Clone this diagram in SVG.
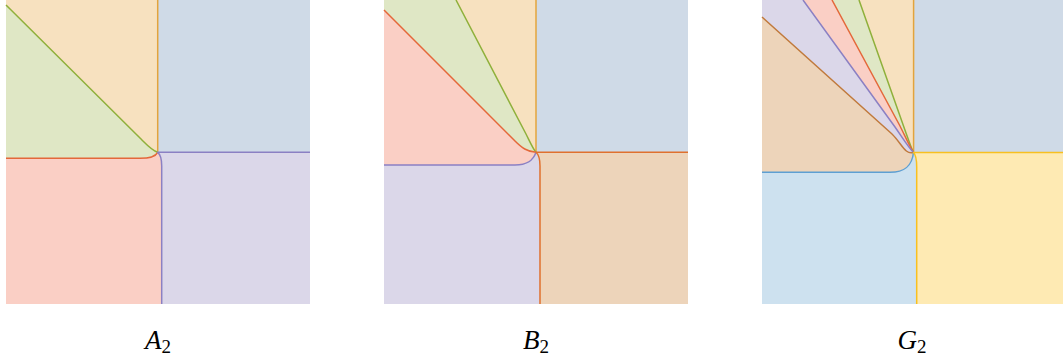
<svg xmlns="http://www.w3.org/2000/svg" width="1063" height="362" viewBox="0 0 1063 362">
<style>
.ln{fill:none;stroke-width:1.5;stroke-linejoin:round}
.f-beige{fill:#f7e1bf}.f-green{fill:#dfe7c5}.f-pink{fill:#facfc5}.f-lav{fill:#dbd7e9}
.f-blue{fill:#cfdae7}.f-brown{fill:#edd4ba}.f-lblue{fill:#cde1ef}.f-yel{fill:#feeab3}
.s-or{stroke:#e3a43c}.s-gr{stroke:#8fb03b}.s-rd{stroke:#e4683a}.s-pu{stroke:#8b80c3}
.s-br{stroke:#c07a3d}.s-bl{stroke:#5e9fd2}.s-ye{stroke:#f8c020}.s-ro{stroke:#e0702e}
.lbl{font-family:"Liberation Serif","DejaVu Serif",serif;font-size:27px;font-style:italic;text-anchor:middle;fill:#000}
.sub{font-style:normal;font-size:19px}
</style>
<rect width="1063" height="362" fill="#fff"/>
<g id="panel-A2">
  <path class="f-blue" d="M157.7,0 H310 V152.3 H157.7 Z"/>
  <path class="f-beige" d="M6,0 H157.7 V152.3 C152,150.5 148,146 140,138 L6,5 Z"/>
  <path class="f-green" d="M6,5 L140,138 C148,146 152,150.5 157.7,152.3 C155.5,156.5 150,158.3 140,158.3 L6,158.3 Z"/>
  <path class="f-pink" d="M6,158.3 H140 C150,158.3 155.5,156.5 157.7,152.3 C160.5,154.5 161.7,157.5 161.7,166 V304 H6 Z"/>
  <path class="f-lav" d="M157.7,152.3 H310 V304 H161.7 V166 C161.7,157.5 160.5,154.5 157.7,152.3 Z"/>
  <g class="ln">
    <path class="s-or" d="M157.7,0 V152.3"/>
    <path class="s-gr" d="M6,5 L140,138 C148,146 152,150.5 157.7,152.3"/>
    <path class="s-rd" d="M6,158.3 H140 C150,158.3 155.5,156.5 157.7,152.3"/>
    <path class="s-pu" d="M310,152.3 H157.7 C160.5,154.5 161.7,157.5 161.7,166 V304"/>
  </g>
  <text class="lbl" x="158" y="349">A<tspan class="sub" dy="4">2</tspan></text>
</g>
<g id="panel-B2">
  <path class="f-blue" d="M536,0 H688 V152.3 H536 Z"/>
  <path class="f-beige" d="M456,0 H536 V152.3 C533,149 530,142 526,134 Z"/>
  <path class="f-green" d="M384,0 H456 L526,134 C530,142 533,149 536,152.3 C527,151.5 522,148 515,141 L384,10 Z"/>
  <path class="f-pink" d="M384,10 L515,141 C522,148 527,151.5 536,152.3 C533,161 527,165 515,165 H384 Z"/>
  <path class="f-lav" d="M384,165 H515 C527,165 533,161 536,152.3 C538.5,154.5 540,157.5 540,166 V304 H384 Z"/>
  <path class="f-brown" d="M536,152.3 H688 V304 H540 V166 C540,157.5 538.5,154.5 536,152.3 Z"/>
  <g class="ln">
    <path class="s-or" d="M536,0 V152.3"/>
    <path class="s-gr" d="M456,0 L526,134 C530,142 533,149 536,152.3"/>
    <path class="s-rd" d="M384,10 L515,141 C522,148 527,151.5 536,152.3"/>
    <path class="s-pu" d="M384,165 H515 C527,165 533,161 536,152.3"/>
    <path class="s-ro" d="M688,152.3 H536 C538.5,154.5 540,157.5 540,166 V304"/>
  </g>
  <text class="lbl" x="536" y="349">B<tspan class="sub" dy="4">2</tspan></text>
</g>
<g id="panel-G2">
  <path class="f-blue" d="M913.6,0 H1063 V152.5 H913.5 Z"/>
  <path class="f-beige" d="M859,0 H913.6 V152.5 C911,148 909,141 906,133 Z"/>
  <path class="f-green" d="M832,0 H859 L906,133 C909,141 911,148 913.5,152.5 C910,147 905,136 900,126 Z"/>
  <path class="f-pink" d="M803,0 H832 L900,126 C905,136 910,147 913.5,152.5 C908,147 902,137 895,127 Z"/>
  <path class="f-lav" d="M762,0 H803 L895,127 C902,137 908,147 913.5,152.5 C905,155 902,144 892,134 L762,17 Z"/>
  <path class="f-brown" d="M762,17 L892,134 C902,144 905,155 913.5,152.5 C912,166 905,172.3 890,172.3 H762 Z"/>
  <path class="f-lblue" d="M762,172.3 H890 C905,172.3 912,166 913.5,152.5 C916,155 916.7,158 916.7,167 V304 H762 Z"/>
  <path class="f-yel" d="M913.5,152.5 H1063 V304 H916.7 V167 C916.7,158 916,155 913.5,152.5 Z"/>
  <g class="ln">
    <path class="s-or" d="M913.6,0 V152.5"/>
    <path class="s-gr" d="M859,0 L906,133 C909,141 911,148 913.5,152.5"/>
    <path class="s-rd" d="M832,0 L900,126 C905,136 910,147 913.5,152.5"/>
    <path class="s-pu" d="M803,0 L895,127 C902,137 908,147 913.5,152.5"/>
    <path class="s-br" d="M762,17 L892,134 C902,144 905,155 913.5,152.5"/>
    <path class="s-bl" d="M762,172.3 H890 C905,172.3 912,166 913.5,152.5"/>
    <path class="s-ye" d="M1063,152.5 H913.5 C916,155 916.7,158 916.7,167 V304"/>
  </g>
  <text class="lbl" x="912" y="349">G<tspan class="sub" dy="4">2</tspan></text>
</g>
</svg>
